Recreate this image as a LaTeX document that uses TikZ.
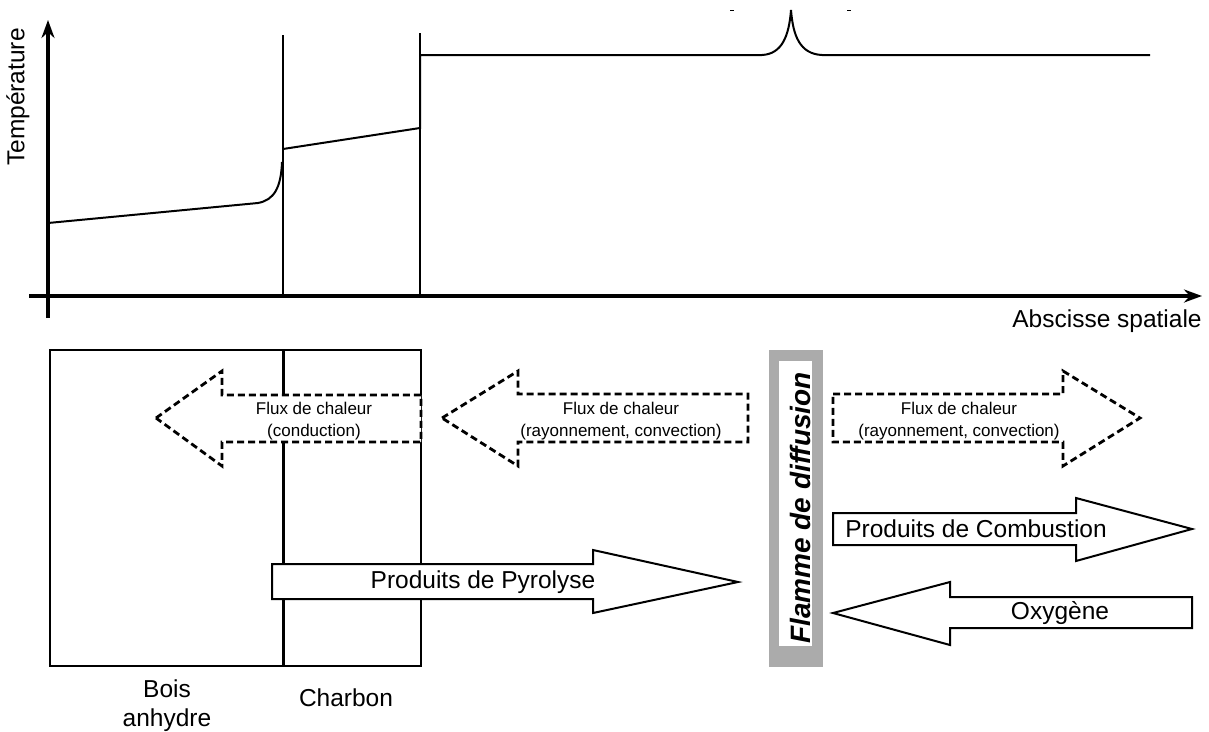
\documentclass[tikz,border=0pt]{standalone}
\usepackage{fontspec}
\setmainfont{Liberation Sans}
\usetikzlibrary{arrows.meta}

\tikzset{
  axis/.style={line width=3.2pt, -{Stealth[length=18pt,width=13pt]}},
  profile/.style={line width=2pt},
  front/.style={line width=1.2pt},
  heatflux/.style={draw, fill=white, line width=2.8pt, dash pattern=on 7pt off 4pt},
  massflux/.style={draw, fill=white, line width=2pt},
  biglabel/.style={font=\fontsize{24.5}{29}\selectfont, align=center, inner sep=0pt},
  smalllabel/.style={font=\fontsize{17}{22}\selectfont, align=center, inner sep=0pt},
}

\begin{document}
\begin{tikzpicture}[x=1pt, y=-1pt]
    \useasboundingbox (0,0) rectangle (1209,731);

    % temperature profile
    \coordinate (origin) at (48,296);
    \coordinate (ytop) at (48,20);
    \coordinate (xend) at (1202,296);
    \draw[axis] (48,318) -- (ytop);
    \draw[axis] (29,296) -- (xend);
    \node[biglabel, rotate=90] (temp) at (18,97) {Température};
    \node[biglabel, anchor=base] (abscisse) at (1107,327) {Abscisse spatiale};

    \draw[front] (283,35) -- (283,296);
    \draw[front] (420,33) -- (420,296);
    \draw[profile] (48,223) -- (258,203) .. controls (274,200) and (281,188) .. (282,162);
    \draw[profile] (283,149) -- (420,128) -- (420,55) -- (762,55)
      .. controls (782,54) and (789,36) .. (791,10)
      .. controls (793,36) and (800,54) .. (822,55) -- (1150,55);
    \draw[line width=1pt] (730,10) -- (734,10);
    \draw[line width=1pt] (847,10) -- (851,10);

    % solid
    \draw[line width=2pt] (50,350) rectangle (421,666);
    \draw[line width=3pt] (283,350) -- (283,666);
    \node[biglabel] (bois) at (167,706) {Bois\\anhydre};
    \node[biglabel] (charbon) at (346,698) {Charbon};

    % flame
    \fill[black!33] (769,350) rectangle (823,667);
    \fill[white] (779,361) rectangle (812,646);
    \node[font=\fontsize{28}{30}\selectfont\bfseries\itshape, rotate=90, inner sep=0pt] (flamme) at (800,508) {Flamme de diffusion};

    % heat fluxes
    \draw[heatflux] (156,418) -- (222,371) -- (222,395) -- (421,395) -- (421,442) -- (222,442) -- (222,466) -- cycle;
    \node[smalllabel] (conduction) at (314,421) {Flux de chaleur\\(conduction)};
    \draw[heatflux] (442,418) -- (518,371) -- (518,394) -- (748,394) -- (748,442) -- (518,442) -- (518,466) -- cycle;
    \node[smalllabel] (rayonG) at (621,421) {Flux de chaleur\\(rayonnement, convection)};
    \draw[heatflux] (833,394) -- (1063,394) -- (1063,371) -- (1140,418) -- (1063,466) -- (1063,442) -- (833,442) -- cycle;
    \node[smalllabel] (rayonD) at (959,421) {Flux de chaleur\\(rayonnement, convection)};

    % mass fluxes
    \draw[massflux] (272,564) -- (593,564) -- (593,550) -- (738,582) -- (593,613) -- (593,599) -- (272,599) -- cycle;
    \node[biglabel] (pyrolyse) at (483,582) {Produits de Pyrolyse};
    \draw[massflux] (833,513) -- (1076,513) -- (1076,498) -- (1192,529) -- (1076,561) -- (1076,545) -- (833,545) -- cycle;
    \node[biglabel] (combustion) at (976,529) {Produits de Combustion};
    \draw[massflux] (833,613) -- (950,582) -- (950,597) -- (1192,597) -- (1192,628) -- (950,628) -- (950,645) -- cycle;
    \node[biglabel] (oxygene) at (1060,613) {Oxygène};
\end{tikzpicture}
\end{document}
